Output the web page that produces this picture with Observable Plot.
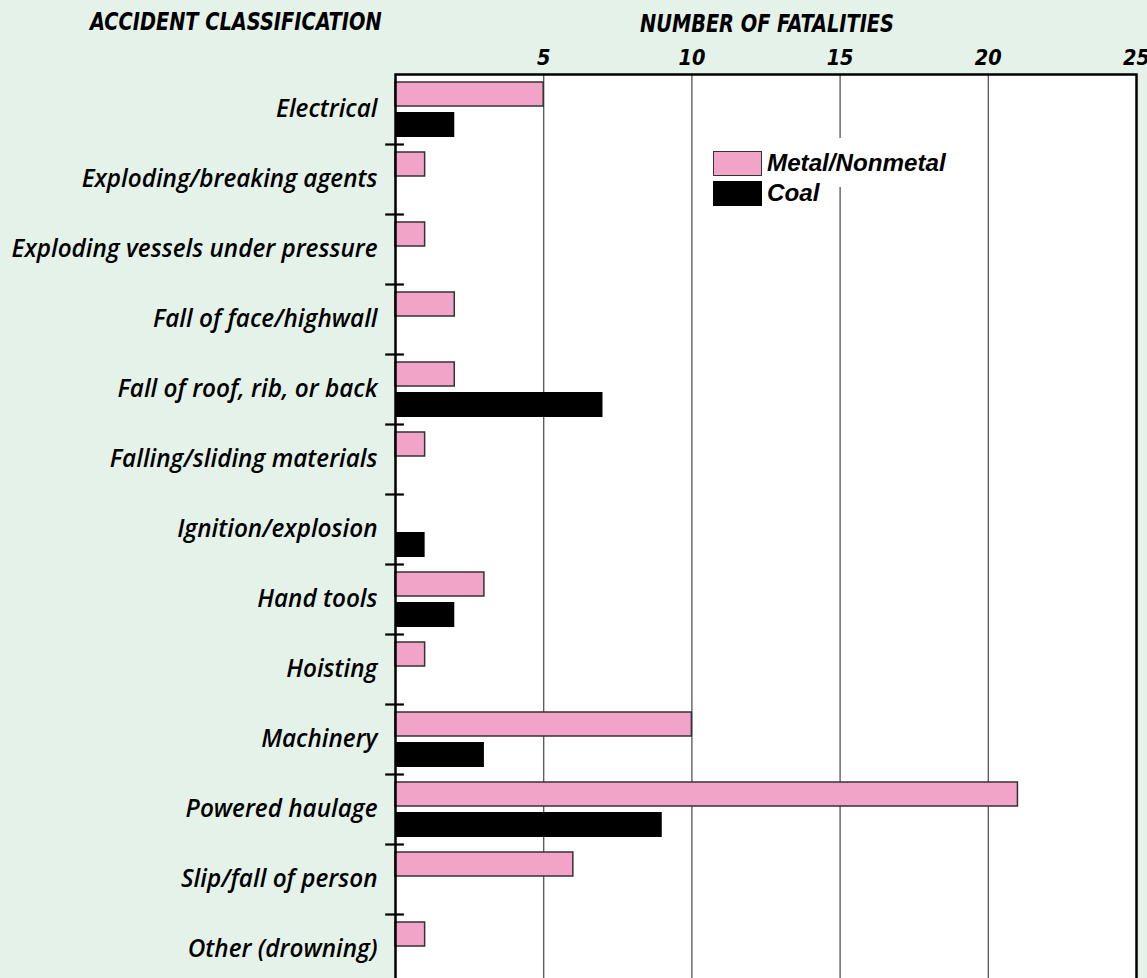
<!DOCTYPE html>
<html>
<head>
<meta charset="utf-8">
<script src="https://cdn.jsdelivr.net/npm/d3@7"></script>
<script src="https://cdn.jsdelivr.net/npm/@observablehq/plot@0.6"></script>
<style>
  html, body { margin: 0; padding: 0; overflow: hidden; background: #e5f2e9; }
  #wrap { position: relative; width: 1147px; height: 978px; overflow: hidden; }
  .ttl { position: absolute; font-family: "Liberation Sans Narrow", "DejaVu Sans Condensed", sans-serif;
         font-weight: bold; font-style: italic; font-size: 21.5px; color: #000; white-space: nowrap;
         transform: scale(1, 1.12); transform-origin: 0 0; }
  #legendbg { position: absolute; left: 705px; top: 138px; width: 245px; height: 49px; background: white; }
  #legend { position: absolute; left: 705px; top: 148px; font-family: "Liberation Sans", Arial, sans-serif;
            font-weight: bold; font-style: italic; font-size: 24.2px; }
  .row { display: flex; align-items: center; height: 30px; padding-left: 8px; }
  .sw { width: 49px; height: 25px; margin-right: 5px; box-sizing: border-box; }
</style>
</head>
<body>
<div id="wrap"></div>
<script>
const categories = [
  "Electrical",
  "Exploding/breaking agents",
  "Exploding vessels under pressure",
  "Fall of face/highwall",
  "Fall of roof, rib, or back",
  "Falling/sliding materials",
  "Ignition/explosion",
  "Hand tools",
  "Hoisting",
  "Machinery",
  "Powered haulage",
  "Slip/fall of person",
  "Other (drowning)"
];
const metalNonmetal = [5, 1, 1, 2, 2, 1, 0, 3, 1, 10, 21, 6, 1];
const coal          = [2, 0, 0, 0, 7, 0, 1, 2, 0, 3, 9, 0, 0];
const xTicks = [5, 10, 15, 20, 25];
const gridValues = [5, 10, 15, 20];
const seriesNames = ["Metal/Nonmetal", "Coal"];
const seriesColors = ["#f2a4c8", "#000000"];

const mnmData = categories.map((c, i) => ({category: c, value: metalNonmetal[i]})).filter(d => d.value > 0);
const coalData = categories.map((c, i) => ({category: c, value: coal[i]})).filter(d => d.value > 0);

const labelFont = "'Open Sans', 'Noto Sans', sans-serif";

const chart = Plot.plot({
  width: 1147,
  height: 986,
  marginLeft: 395,
  marginRight: 11,
  marginTop: 74,
  marginBottom: 2,
  style: {background: "transparent", overflow: "visible"},
  x: {domain: [0, 25], axis: null},
  y: {domain: categories, padding: 0, axis: null},
  marks: [
    Plot.frame({fill: "white", stroke: null}),
    Plot.ruleX(gridValues, {stroke: "#555", strokeWidth: 1.3}),
    Plot.barX(mnmData, {x: "value", y: "category", fill: seriesColors[0], stroke: "#333", strokeWidth: 1.5, insetTop: 8, insetBottom: 38}),
    Plot.barX(coalData, {x: "value", y: "category", fill: seriesColors[1], insetTop: 38, insetBottom: 7}),
    Plot.frame({stroke: "black", strokeWidth: 2.5}),
    Plot.ruleY(categories.slice(1), {y: d => d, x1: -0.33, x2: 0.3, dy: -35, stroke: "black", strokeWidth: 2.2}),
    Plot.axisX(xTicks, {anchor: "top", tickSize: 0, tickPadding: 10, label: null,
      fontSize: 21.5, fontWeight: "bold", fontStyle: "italic",
      fontFamily: "'Liberation Sans Narrow', 'DejaVu Sans Condensed', sans-serif", fill: "black"}),
    Plot.axisY({anchor: "left", tickSize: 0, tickPadding: 18, label: null,
      fontSize: 24.3, fontWeight: 600, fontStyle: "italic",
      fontFamily: labelFont, fill: "black"})
  ]
});

const wrap = document.getElementById("wrap");
chart.style.position = "absolute";
chart.style.left = "0px";
chart.style.top = "0px";
wrap.appendChild(chart);

const t1 = document.createElement("div");
t1.className = "ttl"; t1.style.left = "90px"; t1.style.top = "8px";
t1.textContent = "ACCIDENT CLASSIFICATION";
wrap.appendChild(t1);
const t2 = document.createElement("div");
t2.className = "ttl"; t2.style.left = "640px"; t2.style.top = "10px";
t2.textContent = "NUMBER OF FATALITIES";
wrap.appendChild(t2);

const bg = document.createElement("div");
bg.id = "legendbg";
wrap.appendChild(bg);

const legend = document.createElement("div");
legend.id = "legend";
seriesNames.forEach((name, i) => {
  const row = document.createElement("div");
  row.className = "row";
  const sw = document.createElement("div");
  sw.className = "sw";
  sw.style.background = seriesColors[i];
  if (i === 0) sw.style.border = "1.5px solid #333";
  const tx = document.createElement("span");
  tx.textContent = name;
  row.appendChild(sw); row.appendChild(tx);
  legend.appendChild(row);
});
wrap.appendChild(legend);
</script>
</body>
</html>
